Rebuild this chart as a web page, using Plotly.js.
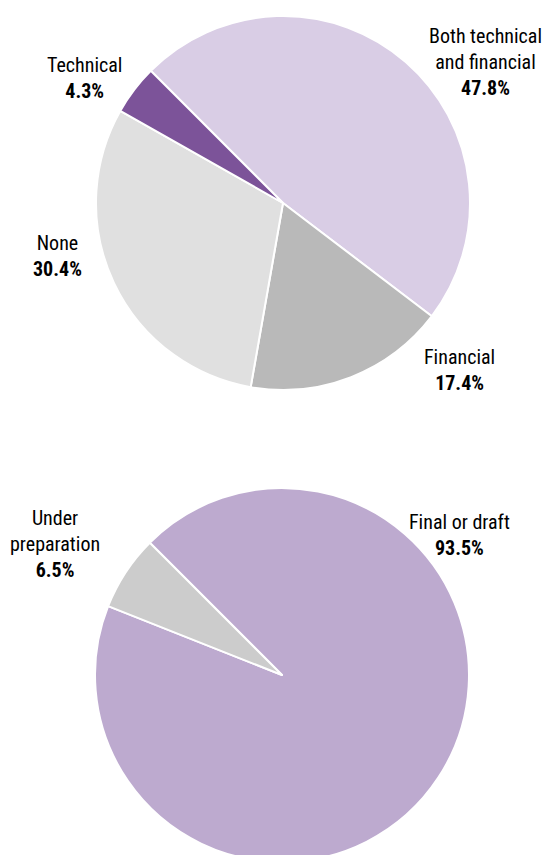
<!DOCTYPE html>
<html>
<head>
<meta charset="utf-8">
<script src="https://cdn.plot.ly/plotly-3.0.1.min.js"></script>
<style>
  html, body { margin: 0; padding: 0; background: #ffffff; overflow: hidden; }
  #chart { width: 544px; height: 870px; }
</style>
</head>
<body>
<div id="chart"></div>
<script>
// ---- Data ----
const supportLabels = ['Both technical and financial', 'Financial', 'None', 'Technical'];
const supportValues = [47.8, 17.4, 30.4, 4.3];
const supportLabelLines = ['Both technical<br>and financial', 'Financial', 'None', 'Technical'];

const planLabels = ['Final or draft', 'Under preparation'];
const planValues = [93.5, 6.5];
const planLabelLines = ['Final or draft', 'Under<br>preparation'];

// ---- Styles ----
const supportColors = ['#d9cde5', '#b9b9b9', '#e0e0e0', '#7c5399'];
const planColors = ['#bdaacf', '#cccccc'];

const W = 544, H = 870;
const fontFam = '"Liberation Sans Narrow", "Roboto Condensed", "DejaVu Sans Condensed", "Liberation Sans", sans-serif';

function px2x(px) { return px / W; }
function px2y(py) { return 1 - py / H; }

// label anchor positions (pixel centres of each text block)
const supportLabelPos = [[485, 62], [459, 370], [57, 256], [84, 78]];
const planLabelPos = [[459, 535], [55, 544]];

const traces = [
  {
    type: 'pie',
    labels: supportLabels,
    values: supportValues,
    sort: false,
    direction: 'clockwise',
    rotation: -45,
    textinfo: 'none',
    hoverinfo: 'label+percent',
    marker: { colors: supportColors, line: { color: '#ffffff', width: 2 } },
    domain: { x: [px2x(96), px2x(470)], y: [px2y(390), px2y(16)] },
    showlegend: false
  },
  {
    type: 'pie',
    labels: planLabels,
    values: planValues,
    sort: false,
    direction: 'clockwise',
    rotation: -45,
    textinfo: 'none',
    hoverinfo: 'label+percent',
    marker: { colors: planColors, line: { color: '#ffffff', width: 2 } },
    domain: { x: [px2x(95), px2x(469)], y: [px2y(862), px2y(488)] },
    showlegend: false
  }
];

const annotations = [];
supportLabelLines.forEach((t, i) => {
  annotations.push({
    xref: 'paper', yref: 'paper',
    x: px2x(supportLabelPos[i][0]), y: px2y(supportLabelPos[i][1]),
    xanchor: 'center', yanchor: 'middle', align: 'center',
    showarrow: false,
    text: t + '<br><b>' + supportValues[i].toFixed(1) + '%</b>',
    font: { family: fontFam, size: 20, color: '#000000' }
  });
});
planLabelLines.forEach((t, i) => {
  annotations.push({
    xref: 'paper', yref: 'paper',
    x: px2x(planLabelPos[i][0]), y: px2y(planLabelPos[i][1]),
    xanchor: 'center', yanchor: 'middle', align: 'center',
    showarrow: false,
    text: t + '<br><b>' + planValues[i].toFixed(1) + '%</b>',
    font: { family: fontFam, size: 20, color: '#000000' }
  });
});

const layout = {
  width: W, height: H,
  margin: { l: 0, r: 0, t: 0, b: 0 },
  paper_bgcolor: '#ffffff',
  plot_bgcolor: '#ffffff',
  showlegend: false,
  annotations: annotations
};

Plotly.newPlot('chart', traces, layout, { displayModeBar: false, staticPlot: true });
</script>
</body>
</html>
